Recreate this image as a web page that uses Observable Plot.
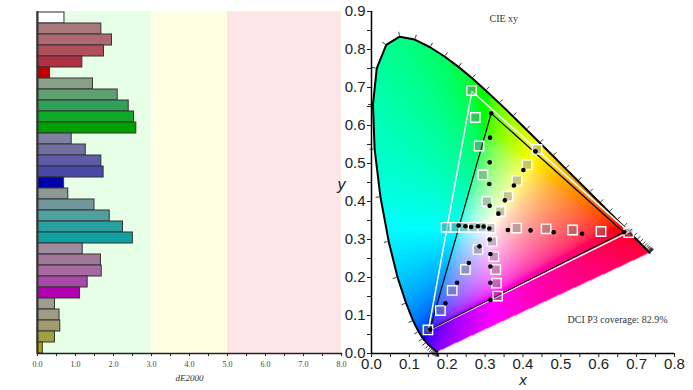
<!DOCTYPE html>
<html><head><meta charset="utf-8">
<script src="https://cdn.jsdelivr.net/npm/d3@7"></script>
<script src="https://cdn.jsdelivr.net/npm/@observablehq/plot@0.6"></script>
<style>
body{margin:0;background:#fff;}
#wrap{position:relative;width:693px;height:390px;overflow:hidden;background:#fff;}
#left{position:absolute;left:0;top:0;width:350px;height:390px;}
#right{position:absolute;left:330px;top:0;width:363px;height:390px;}
</style></head><body><div id="wrap"><div id="left"></div><div id="right"></div></div>
<script>
// ---------- Bar chart data (dE2000 per patch) ----------
const barNames = ["White",
  "Red 20%","Red 40%","Red 60%","Red 80%","Red 100%",
  "Green 20%","Green 40%","Green 60%","Green 80%","Green 100%",
  "Blue 20%","Blue 40%","Blue 60%","Blue 80%","Blue 100%",
  "Cyan 20%","Cyan 40%","Cyan 60%","Cyan 80%","Cyan 100%",
  "Magenta 20%","Magenta 40%","Magenta 60%","Magenta 80%","Magenta 100%",
  "Yellow 20%","Yellow 40%","Yellow 60%","Yellow 80%","Yellow 100%"];
const barValues = [0.71,
  1.68,1.96,1.75,1.18,0.33,
  1.46,2.11,2.40,2.54,2.60,
  0.90,1.27,1.68,1.74,0.70,
  0.81,1.50,1.90,2.25,2.51,
  1.19,1.67,1.69,1.32,1.12,
  0.46,0.58,0.60,0.46,0.14];
const barColors = ["#ffffff",
  "#a8787c","#ae6a72","#b05058","#b03040","#c00000",
  "#88a088","#60a070","#30a058","#10a828","#00a000",
  "#8080a0","#7070a0","#5c5ca8","#4848a8","#0000a8",
  "#8c9898","#70989c","#50a0a0","#28a0a0","#10a0a0",
  "#a08c9c","#a07898","#a868a0","#a848a8","#b000b0",
  "#a09c90","#a09c84","#a09c70","#a0a040","#a8a800"];
const bandStarts = [0,3,5];
const bandEnds = [3,5,8];
const bandColors = ["#e6ffe6","#ffffe4","#ffe6e6"];
const deTicks = d3.range(0,17).map(i => i*0.5);

// ---------- CIE 1931 spectral locus (5 nm) ----------
const locusNm = d3.range(380,701,5);
const locusX = [0.1741,0.1740,0.1738,0.1736,0.1733,0.1730,0.1726,0.1721,0.1714,0.1703,0.1689,0.1669,0.1644,0.1611,0.1566,0.1510,0.1440,0.1355,0.1241,0.1096,0.0913,0.0687,0.0454,0.0235,0.0082,0.0039,0.0139,0.0389,0.0743,0.1142,0.1547,0.1929,0.2296,0.2658,0.3016,0.3373,0.3731,0.4087,0.4441,0.4788,0.5125,0.5448,0.5752,0.6029,0.6270,0.6482,0.6658,0.6801,0.6915,0.7006,0.7079,0.7140,0.7190,0.7230,0.7260,0.7283,0.7300,0.7311,0.7320,0.7327,0.7334,0.7340,0.7344,0.7346,0.7347];
const locusY = [0.0050,0.0050,0.0049,0.0049,0.0048,0.0048,0.0048,0.0048,0.0051,0.0058,0.0069,0.0086,0.0109,0.0138,0.0177,0.0227,0.0297,0.0399,0.0578,0.0868,0.1327,0.2007,0.2950,0.4127,0.5384,0.6548,0.7502,0.8120,0.8338,0.8262,0.8059,0.7816,0.7543,0.7243,0.6923,0.6589,0.6245,0.5896,0.5547,0.5202,0.4866,0.4544,0.4242,0.3965,0.3725,0.3514,0.3340,0.3197,0.3083,0.2993,0.2920,0.2859,0.2809,0.2770,0.2740,0.2717,0.2700,0.2689,0.2680,0.2673,0.2666,0.2660,0.2656,0.2654,0.2653];

// gamut triangles (R, G, B)
const p3X = [0.680,0.265,0.150];
const p3Y = [0.320,0.690,0.060];
const measGamutX = [0.666,0.316,0.154];
const measGamutY = [0.319,0.632,0.063];

// targets (squares) and measured (dots), same order as bars
const targetX = [0.314,
  0.383,0.461,0.531,0.606,0.679,
  0.305,0.294,0.284,0.274,0.264,
  0.281,0.248,0.213,0.182,0.149,
  0.292,0.268,0.244,0.219,0.197,
  0.318,0.323,0.328,0.330,0.333,
  0.340,0.360,0.384,0.411,0.437];
const targetY = [0.330,
  0.330,0.328,0.325,0.321,0.318,
  0.400,0.470,0.546,0.621,0.692,
  0.274,0.221,0.166,0.113,0.062,
  0.332,0.332,0.332,0.332,0.332,
  0.295,0.255,0.221,0.185,0.151,
  0.374,0.414,0.455,0.497,0.537];
const measX = [0.311,
  0.360,0.420,0.481,0.556,0.666,
  0.312,0.311,0.312,0.313,0.316,
  0.285,0.257,0.226,0.195,0.155,
  0.296,0.281,0.263,0.248,0.230,
  0.312,0.314,0.314,0.314,0.314,
  0.335,0.352,0.376,0.401,0.433];
const measY = [0.329,
  0.325,0.324,0.319,0.315,0.319,
  0.389,0.446,0.503,0.568,0.632,
  0.282,0.238,0.186,0.132,0.063,
  0.334,0.335,0.333,0.335,0.337,
  0.300,0.262,0.229,0.186,0.141,
  0.368,0.403,0.442,0.483,0.532];
const xTicks = d3.range(0,17).map(i => i*0.05);
const yTicks = d3.range(0,19).map(i => i*0.05);

// ---------- Left: bar chart ----------
const bars = barNames.map((n,i) => ({name:n, value:barValues[i], color:barColors[i]}));
const bands = bandStarts.map((s,i) => ({x1:s, x2:bandEnds[i], color:bandColors[i]}));

const left = Plot.plot({
  width: 350, height: 390,
  marginLeft: 37, marginRight: 9, marginTop: 11, marginBottom: 37,
  style: {fontFamily: "'Liberation Serif', serif", fontSize: "8px", color: "#444", background: "transparent"},
  x: {domain: [0,8]},
  y: {domain: barNames, padding: 0, axis: null},
  marks: [
    Plot.rect(bands, {x1:"x1", x2:"x2", fill: d => d.color}),
    Plot.barX(bars, {x:"value", y:"name", fill: d => d.color, stroke:"#333", strokeWidth:1}),
    Plot.ruleX([0], {stroke:"#333", strokeWidth:2}),
    Plot.frame({anchor:"bottom", stroke:"#222", strokeWidth:1.5}),
    Plot.axisX({ticks: deTicks, tickFormat: d => Number.isInteger(d) ? d.toFixed(1) : "", tickSize: 3, tickPadding: 5, label: null, stroke:"#222"}),
    Plot.text(["dE2000"], {text: d => d, frameAnchor:"bottom", dy: 27, fontStyle:"italic", fontSize: 9, fill:"#333"})
  ]
});
document.getElementById("left").appendChild(left);

// ---------- Right: CIE xy ----------
const locus = locusNm.map((nm,i) => ({nm, x:locusX[i], y:locusY[i]}));
const locusPoly = locus.map(p => [p.x, p.y]);
const enc = v => v <= 0.0031308 ? 12.92*v : 1.055*Math.pow(v,1/2.4) - 0.055;
function xyColor(x, y) {
  if (y <= 0.0005 || !d3.polygonContains(locusPoly, [x,y])) return null;
  const X = x/y, Y = 1, Z = (1-x-y)/y;
  let r = 3.2406*X - 1.5372*Y - 0.4986*Z;
  let g = -0.9689*X + 1.8758*Y + 0.0415*Z;
  let b = 0.0557*X - 0.2040*Y + 1.0570*Z;
  const mn = Math.min(r,g,b);
  if (mn < 0) { r -= 0.5*mn; g -= 0.5*mn; b -= 0.5*mn; }
  r = Math.max(r,0); g = Math.max(g,0); b = Math.max(b,0);
  const m = Math.max(r,g,b) || 1;
  return `rgb(${Math.round(255*enc(r/m))},${Math.round(255*enc(g/m))},${Math.round(255*enc(b/m))})`;
}
const locusTicks = locus.map((p,i) => {
  const a = locus[Math.max(0,i-1)], b = locus[Math.min(locus.length-1,i+1)];
  let nx = b.y - a.y, ny = -(b.x - a.x);
  const L = Math.hypot(nx,ny) || 1; nx /= L; ny /= L;
  if ((p.x-0.33)*nx + (p.y-0.33)*ny < 0) { nx = -nx; ny = -ny; }
  return {x1: p.x + nx*0.003, y1: p.y + ny*0.003, x2: p.x + nx*0.013, y2: p.y + ny*0.013};
});
const tri = (xs, ys) => [0,1,2,0].map(i => ({x: xs[i], y: ys[i]}));
const targets = targetX.map((x,i) => ({x, y: targetY[i]}));
const measured = measX.map((x,i) => ({x, y: measY[i]}));
const fmt = d => Math.round(d*20) % 2 === 0 ? d.toFixed(1) : "";

const right = Plot.plot({
  width: 363, height: 390,
  marginLeft: 41, marginRight: 19, marginTop: 11, marginBottom: 37,
  style: {fontFamily: "'Liberation Sans', Arial, sans-serif", fontSize: "15px", color: "#222", background: "transparent"},
  x: {domain: [0,0.8]},
  y: {domain: [0,0.9]},
  color: {type: "identity"},
  marks: [
    Plot.raster({x1:0, x2:0.8, y1:0, y2:0.9, fill: xyColor, pixelSize: 1}),
    Plot.line(locus, {x:"x", y:"y", stroke:"black", strokeWidth:2}),
    Plot.link(locusTicks, {x1:"x1", y1:"y1", x2:"x2", y2:"y2", stroke:"#222", strokeWidth:0.9}),
    Plot.line(tri(p3X,p3Y), {x:"x", y:"y", stroke:"white", strokeWidth:1.5}),
    Plot.line(tri(measGamutX,measGamutY), {x:"x", y:"y", stroke:"black", strokeWidth:1.2}),
    Plot.dot(targets, {x:"x", y:"y", symbol:"square", r:5.3, stroke:"white", strokeWidth:1.4, fill:"#777", fillOpacity:0.4}),
    Plot.dot(measured, {x:"x", y:"y", r:2.3, fill:"black"}),
    Plot.ruleX([0], {stroke:"black", strokeWidth:1.5}),
    Plot.ruleY([0], {stroke:"black", strokeWidth:1.5}),
    Plot.axisX({ticks: xTicks, tickFormat: fmt, tickSize: 4, tickPadding: 1, label: null}),
    Plot.axisY({ticks: yTicks, tickFormat: fmt, tickSize: 4, tickPadding: 2, label: null}),
    Plot.text(["CIE xy"], {text: d => d, frameAnchor:"top-left", dx: 118, dy: 3, fontFamily:"'Liberation Serif', serif", fontSize: 10, fill:"#333"}),
    Plot.text(["DCI P3 coverage: 82.9%"], {text: d => d, frameAnchor:"bottom-left", dx: 196, dy: -31, fontFamily:"'Liberation Serif', serif", fontSize: 10, fill:"#333"}),
    Plot.text(["x"], {text: d => d, frameAnchor:"bottom", dy: 31, lineAnchor:"bottom", fontStyle:"italic", fontSize: 15, fill:"#222"}),
    Plot.text(["y"], {text: d => d, frameAnchor:"left", dx: -34, dy: 2, fontStyle:"italic", fontSize: 16, fill:"#222"})
  ]
});
document.getElementById("right").appendChild(right);
</script></body></html>
